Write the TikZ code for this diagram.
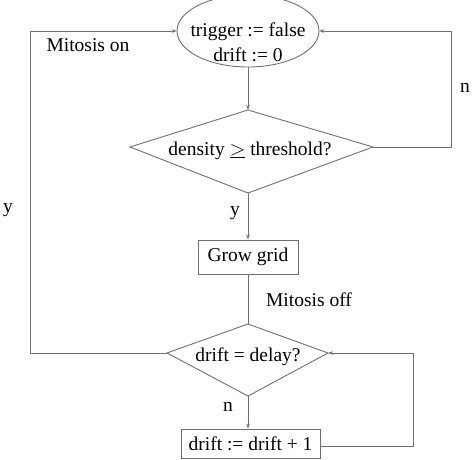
\documentclass[tikz,border=0pt]{standalone}
\usepackage{fontspec}
\setmainfont{Liberation Serif}
\usetikzlibrary{arrows.meta}
\definecolor{linec}{RGB}{112,112,112}
\begin{document}
\begin{tikzpicture}[x=1pt,y=-1pt,
  every node/.style={font=\fontsize{19.5}{24}\selectfont, inner sep=0pt, text=black},
  shp/.style={draw=linec, line width=0.9pt},
  conn/.style={draw=linec, line width=0.8pt},
  arr/.style={conn, -{Stealth[length=5pt,width=3.5pt]}},
  txt/.style={align=center},
  boxnode/.style={draw=linec, line width=0.9pt}]
\useasboundingbox (0,0) rectangle (474,460);
% ellipse start node
\node[minimum width=142pt, minimum height=72pt] (e) at (248,31) {};
\draw[shp] (e.center) ellipse [x radius=71, y radius=36];
\node[txt] (etext) at (248,42) {trigger := false\\[1pt]drift := 0};
% diamond 1
\coordinate (d1n) at (248,110);
\coordinate (d1w) at (130,147);
\coordinate (d1e) at (373,147);
\coordinate (d1s) at (248,193);
\draw[shp] (d1n) -- (d1e) -- (d1s) -- (d1w) -- cycle;
\node (d1) at (250,151) {density $\underline{>}$ threshold?};
% grow grid
\node[boxnode, minimum width=100pt, minimum height=34pt] (g) at (248,257) {Grow grid};
% diamond 2
\coordinate (d2n) at (248,324);
\coordinate (d2w) at (167,353);
\coordinate (d2e) at (328,353);
\coordinate (d2s) at (248,396);
\draw[shp] (d2n) -- (d2e) -- (d2s) -- (d2w) -- cycle;
\node (d2) at (248,357) {drift = delay?};
% drift box
\node[boxnode, minimum width=139pt, minimum height=29pt] (b2) at (250.5,443.5) {drift := drift + 1};
% connectors
\draw[arr] (e.south) -- (d1n);
\draw[arr] (d1s) -- (g.north);
\draw[conn] (g.south) -- (d2n);
\draw[arr] (d2s) -- (d2s |- b2.north);
\coordinate (c1) at (451,147);
\coordinate (c2) at (451,31);
\draw[arr] (d1e) -- (c1) -- (c2) -- (e.east);
\coordinate (c3) at (30,353);
\coordinate (c4) at (30,31);
\draw[arr] (d2w) -- (c3) -- (c4) -- (e.west);
\coordinate (c5) at (413,446);
\coordinate (c6) at (413,353);
\draw[arr] (b2.east |- c5) -- (c5) -- (c6) -- (d2e);
% labels
\node (lmon) at (88,45) {Mitosis on};
\node (ln1) at (465,88) {n};
\node (ly1) at (8,210) {y};
\node (ly2) at (235,213) {y};
\node (lmoff) at (309,300) {Mitosis off};
\node (ln2) at (228,407) {n};
\end{tikzpicture}
\end{document}
